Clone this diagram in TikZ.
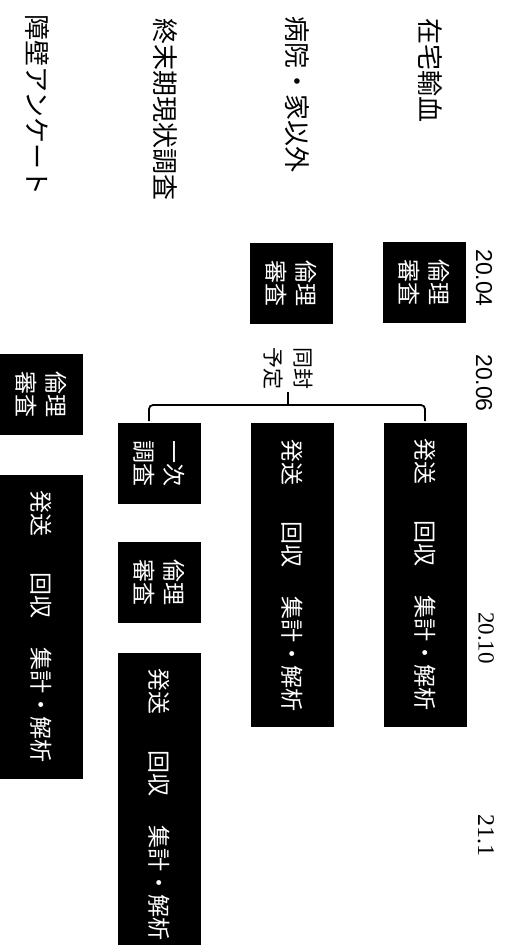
\documentclass[tikz,border=0pt]{standalone}
\usepackage{fontspec}
\newfontfamily\cjk{Noto Sans CJK JP}
\newfontfamily\datesans{Liberation Sans}
\newfontfamily\dateserif{Liberation Serif}
\begin{document}
\begin{tikzpicture}[x=1pt,y=1pt,
  blk/.style={fill=black,text=white,rotate=-90,inner sep=0pt,align=center,
    minimum height=83pt,font=\cjk\fontsize{23}{30}\selectfont},
  shortbox/.style={blk,minimum width=81pt},
  longbox/.style={blk,minimum width=304pt},
  rowlabel/.style={rotate=-90,anchor=west,inner sep=0pt,font=\cjk\fontsize{26}{30}\selectfont},
  datelbl/.style={rotate=-90,inner sep=0pt},
  brk/.style={line width=1.8pt,rounded corners=4pt},
]
\useasboundingbox (0,0) rectangle (507,-945);
\fill[white] (0,0) rectangle (507,-945);

% row labels
\node[rowlabel] (r1) at (430,-18) {在宅輸血};
\node[rowlabel] (r2) at (297,-16) {病院・家以外};
\node[rowlabel] (r3) at (165,-18) {終末期現状調査};
\node[rowlabel] (r4) at (37,-14) {障壁アンケート};

% dates
\node[datelbl,font=\datesans\fontsize{23}{26}\selectfont] (d1) at (484,-278) {20.04};
\node[datelbl,font=\datesans\fontsize{23}{26}\selectfont] (d2) at (484,-383) {20.06};
\node[datelbl,font=\dateserif\fontsize{23}{26}\selectfont] (d3) at (486,-638) {20.10};
\node[datelbl,font=\dateserif\fontsize{24}{26}\selectfont] (d4) at (486,-835) {21.1};

% column 1
\node[shortbox] (a1) at (424,-282.5) {倫理\\審査};
\node[longbox]  (a2) at (425,-574.5) {発送\hspace{36pt}回収\hspace{29pt}集計・解析};
% column 2
\node[shortbox] (b1) at (291.5,-283) {倫理\\審査};
\node[longbox]  (b2) at (292.5,-575) {発送\hspace{36pt}回収\hspace{29pt}集計・解析};
% column 3
\node[shortbox] (c1) at (159.5,-463.5) {一次\\調査};
\node[shortbox] (c2) at (159.5,-582.5) {倫理\\審査};
\node[longbox]  (c3) at (159.5,-804.5) {発送\hspace{36pt}回収\hspace{29pt}集計・解析};
% column 4
\node[shortbox] (e1) at (41.5,-394) {倫理\\審査};
\node[longbox]  (e2) at (41.5,-626.5) {発送\hspace{36pt}回収\hspace{29pt}集計・解析};

% bracket
\node[rotate=-90,inner sep=0pt,align=center,font=\cjk\fontsize{21}{30}\selectfont] (dofu) at (288,-368) {同封\\予定};
\coordinate (bm) at (288,-405);
\coordinate (bl) at (149,-421);
\coordinate (br) at (425,-421);
\coordinate (tip) at (288,-392);
\draw[brk] (bl) |- (bm) -| (br);
\draw[brk] (tip) -- (bm);
\end{tikzpicture}
\end{document}
